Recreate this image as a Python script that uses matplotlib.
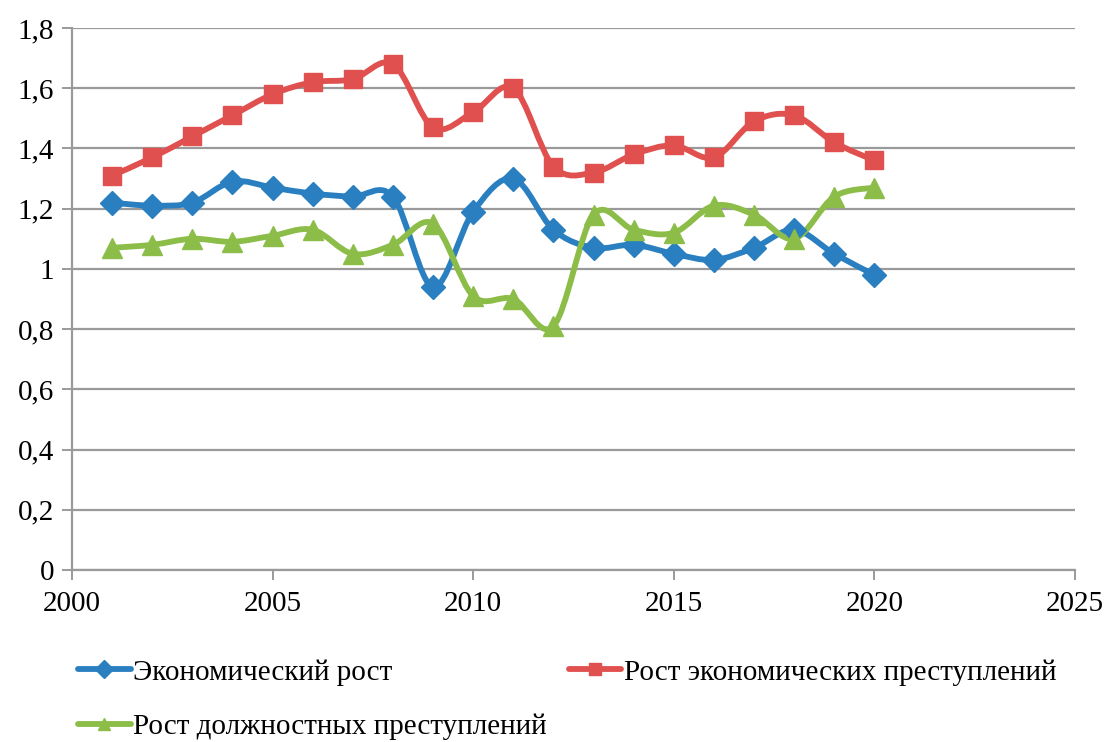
import matplotlib.pyplot as plt
from matplotlib.path import Path
from matplotlib.patches import PathPatch
from matplotlib.lines import Line2D
from matplotlib.ticker import FuncFormatter
import numpy as np

years = list(range(2001, 2021))
econ_growth = [1.22, 1.21, 1.22, 1.29, 1.27, 1.25, 1.24, 1.24, 0.94, 1.19,
               1.30, 1.13, 1.07, 1.08, 1.05, 1.03, 1.07, 1.13, 1.05, 0.98]
econ_crime = [1.31, 1.37, 1.44, 1.51, 1.58, 1.62, 1.63, 1.68, 1.47, 1.52,
              1.60, 1.34, 1.32, 1.38, 1.41, 1.37, 1.49, 1.51, 1.42, 1.36]
office_crime = [1.07, 1.08, 1.10, 1.09, 1.11, 1.13, 1.05, 1.08, 1.15, 0.91,
                0.90, 0.81, 1.18, 1.13, 1.12, 1.21, 1.18, 1.10, 1.24, 1.27]
labels = ["Экономический рост", "Рост экономических преступлений",
          "Рост должностных преступлений"]

plt.rcParams['font.family'] = ['Liberation Serif', 'DejaVu Serif']

BLUE = '#2a7fc0'
RED = '#e0504e'
GREEN = '#8cbd48'


def smooth_path(x, y):
    # сглаживание как в Excel: кривые Безье через все точки
    p = np.column_stack([x, y]).astype(float)
    n = len(p)
    verts = [p[0]]
    codes = [Path.MOVETO]
    for i in range(n - 1):
        p0 = p[i - 1] if i > 0 else p[i]
        p3 = p[i + 2] if i + 2 < n else p[i + 1]
        c1 = p[i] + (p[i + 1] - p0) / 6
        c2 = p[i + 1] - (p3 - p[i]) / 6
        verts += [c1, c2, p[i + 1]]
        codes += [Path.CURVE4] * 3
    return Path(verts, codes)


fig = plt.figure(figsize=(11.05, 7.42), dpi=100)
ax = fig.add_axes([72 / 1105, 1 - 570 / 742, (1075 - 72) / 1105, (570 - 28) / 742])

series = [(econ_growth, BLUE, 'D', 12), (econ_crime, RED, 's', 13),
          (office_crime, GREEN, '^', 14)]
for vals, col, mk, ms in series:
    ax.add_patch(PathPatch(smooth_path(years, vals), facecolor='none',
                           edgecolor=col, lw=4.2, zorder=3, capstyle='round'))
    ax.plot(years, vals, ls='none', marker=mk, ms=ms, color=col, zorder=4)

ax.set_xlim(2000, 2025)
ax.set_ylim(0, 1.8)
ax.set_xticks(range(2000, 2026, 5))
ax.set_yticks(np.arange(0, 1.81, 0.2))
ax.yaxis.set_major_formatter(FuncFormatter(
    lambda v, pos: ('%g' % round(v, 1)).replace('.', ',')))
ax.grid(axis='y', color='#9a9a9a', lw=1.6)
ax.set_axisbelow(True)
for s in ['top', 'right']:
    ax.spines[s].set_visible(False)
for s in ['left', 'bottom']:
    ax.spines[s].set_color('#9a9a9a')
    ax.spines[s].set_linewidth(1.6)
ax.tick_params(axis='both', colors='#9a9a9a', labelcolor='black',
               labelsize=21, length=7, width=1.4)
ax.tick_params(axis='x', pad=8)
ax.tick_params(axis='y', pad=6)

handles = [Line2D([], [], color=c, lw=4.2, marker=m, ms=9,
                  solid_capstyle='round')
           for _, c, m, ms in series]
# порядок: первый столбец — синий и зелёный, второй — красный
fig.legend([handles[0], handles[2], handles[1]],
           [labels[0], labels[2], labels[1]],
           ncol=2, loc='upper left', bbox_to_anchor=(78 / 1105, 1 - 659 / 742),
           frameon=False, fontsize=21, handlelength=1.8, handletextpad=0.1,
           columnspacing=0.75, labelspacing=0.95, borderaxespad=0,
           borderpad=0)

fig.savefig('out.png', dpi=100)
